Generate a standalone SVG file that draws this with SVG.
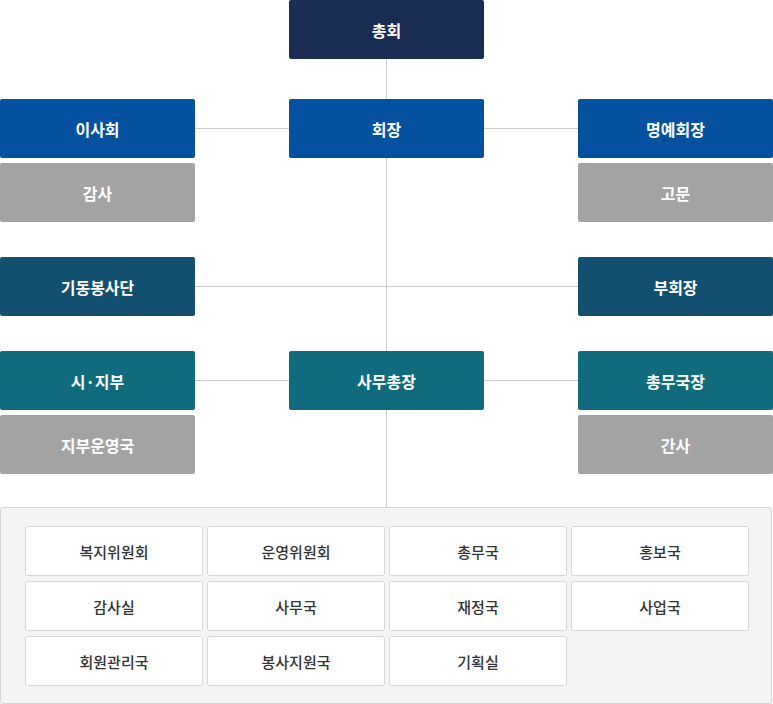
<svg xmlns="http://www.w3.org/2000/svg" width="773" height="704" viewBox="0 0 773 704">
<style>
.t{font-family:"Noto Sans CJK KR","Noto Sans",sans-serif;font-size:16px;font-weight:700;fill:#fff;text-anchor:middle;dominant-baseline:central}
.c{font-family:"Noto Sans CJK KR","Noto Sans",sans-serif;font-size:15px;font-weight:500;fill:#333;text-anchor:middle;dominant-baseline:central}
.navy{fill:#1b2d52}.blue{fill:#0451a0}.dteal{fill:#13506f}.teal{fill:#106b7c}.gray{fill:#a3a3a3}
.cell{fill:#fff;stroke:#d6d6d6;stroke-width:1}
.ln{stroke:#cccccc;stroke-width:1;fill:none}
</style>
<rect width="773" height="704" fill="#fff"/>
<g id="connectors">
<path class="ln" d="M386.5 59V507M195 128.5H289M484 128.5H578M195 286.5H578M195 380.5H289M484 380.5H578"/>
</g>
<g id="n-chonghoe"><rect class="navy" x="289" y="0" width="195" height="59" rx="2"/><text class="t" x="386.5" y="29.5">총회</text></g>
<g id="n-isahoe"><rect class="blue" x="0" y="99" width="195" height="59" rx="2"/><text class="t" x="97.5" y="128.5">이사회</text></g>
<g id="n-hoejang"><rect class="blue" x="289" y="99" width="195" height="59" rx="2"/><text class="t" x="386.5" y="128.5">회장</text></g>
<g id="n-myeongye"><rect class="blue" x="578" y="99" width="195" height="59" rx="2"/><text class="t" x="675.5" y="128.5">명예회장</text></g>
<g id="n-gamsa"><rect class="gray" x="0" y="163" width="195" height="59" rx="2"/><text class="t" x="97.5" y="192.5">감사</text></g>
<g id="n-gomun"><rect class="gray" x="578" y="163" width="195" height="59" rx="2"/><text class="t" x="675.5" y="192.5">고문</text></g>
<g id="n-gidong"><rect class="dteal" x="0" y="257" width="195" height="59" rx="2"/><text class="t" x="97.5" y="286.5">기동봉사단</text></g>
<g id="n-buhoejang"><rect class="dteal" x="578" y="257" width="195" height="59" rx="2"/><text class="t" x="675.5" y="286.5">부회장</text></g>
<g id="n-sijibu"><rect class="teal" x="0" y="351" width="195" height="59" rx="2"/><text class="t" x="97.5" y="380.5">시·지부</text></g>
<g id="n-samuchong"><rect class="teal" x="289" y="351" width="195" height="59" rx="2"/><text class="t" x="386.5" y="380.5">사무총장</text></g>
<g id="n-chongmuguk"><rect class="teal" x="578" y="351" width="195" height="59" rx="2"/><text class="t" x="675.5" y="380.5">총무국장</text></g>
<g id="n-jibuunyeong"><rect class="gray" x="0" y="415" width="195" height="59" rx="2"/><text class="t" x="97.5" y="444.5">지부운영국</text></g>
<g id="n-gansa"><rect class="gray" x="578" y="415" width="195" height="59" rx="2"/><text class="t" x="675.5" y="444.5">간사</text></g>
<g id="panel">
<rect x="0.5" y="507.5" width="771" height="196" fill="#f4f4f4" stroke="#d5d5d5" rx="2"/>
</g>
<g id="c1"><rect class="cell" x="25.5" y="526.5" width="177" height="49" rx="2"/><text class="c" x="114" y="551">복지위원회</text></g>
<g id="c2"><rect class="cell" x="207.5" y="526.5" width="177" height="49" rx="2"/><text class="c" x="296" y="551">운영위원회</text></g>
<g id="c3"><rect class="cell" x="389.5" y="526.5" width="177" height="49" rx="2"/><text class="c" x="478" y="551">총무국</text></g>
<g id="c4"><rect class="cell" x="571.5" y="526.5" width="177" height="49" rx="2"/><text class="c" x="660" y="551">홍보국</text></g>
<g id="c5"><rect class="cell" x="25.5" y="581.5" width="177" height="49" rx="2"/><text class="c" x="114" y="606">감사실</text></g>
<g id="c6"><rect class="cell" x="207.5" y="581.5" width="177" height="49" rx="2"/><text class="c" x="296" y="606">사무국</text></g>
<g id="c7"><rect class="cell" x="389.5" y="581.5" width="177" height="49" rx="2"/><text class="c" x="478" y="606">재정국</text></g>
<g id="c8"><rect class="cell" x="571.5" y="581.5" width="177" height="49" rx="2"/><text class="c" x="660" y="606">사업국</text></g>
<g id="c9"><rect class="cell" x="25.5" y="636.5" width="177" height="49" rx="2"/><text class="c" x="114" y="661">회원관리국</text></g>
<g id="c10"><rect class="cell" x="207.5" y="636.5" width="177" height="49" rx="2"/><text class="c" x="296" y="661">봉사지원국</text></g>
<g id="c11"><rect class="cell" x="389.5" y="636.5" width="177" height="49" rx="2"/><text class="c" x="478" y="661">기획실</text></g>
</svg>
